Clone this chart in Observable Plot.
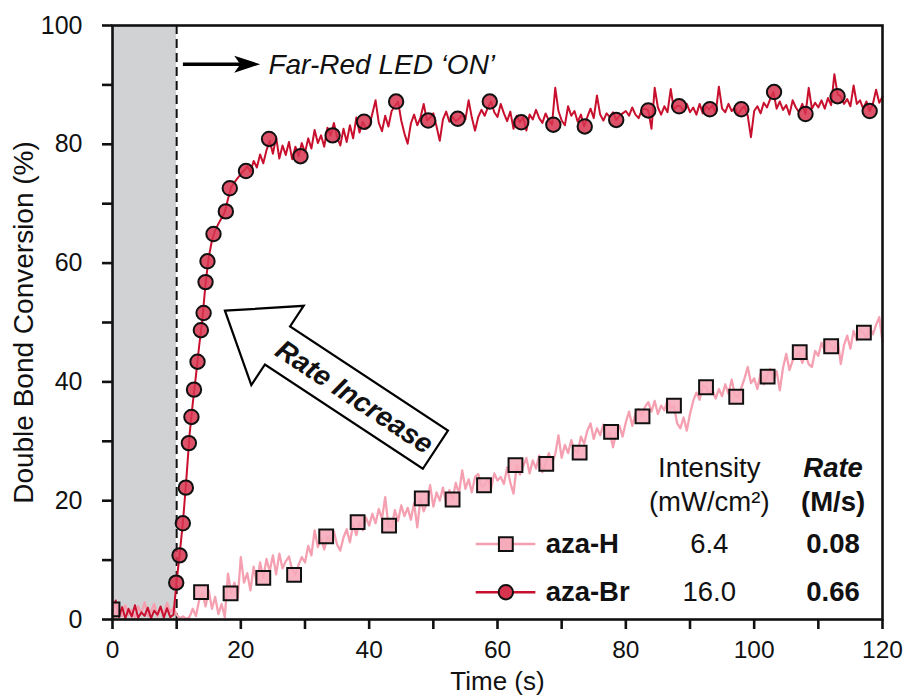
<!DOCTYPE html>
<html>
<head>
<meta charset="utf-8">
<script src="https://cdn.jsdelivr.net/npm/d3@7"></script>
<script src="https://cdn.jsdelivr.net/npm/@observablehq/plot@0.6"></script>
<style>
  html, body { margin: 0; padding: 0; background: #fff; }
  #chart { width: 905px; height: 696px; }
</style>
</head>
<body>
<div id="chart"></div>
<script>
// ---- Data -------------------------------------------------------------
// Photo-DSC style conversion traces, sampled every 0.5 s from 0 to 120 s.
const traceStep = 0.5;

const azaBrTrace = [
  1.5, 3.2, 0.4, 2.1, 0.2, 1.8, 0.5, 2.4, 0.3, 1.2, 0.6, 2.0, 0.2, 1.5, 0.8, 2.2, 0.3, 1.9, 0.4, 0.8,
  6.5, 11.3, 16.7, 23.5, 31.0, 36.3, 41.0, 46.0, 50.5, 56.5, 61.0, 63.8, 65.5, 66.6, 67.6, 68.6, 70.8, 72.8, 73.6, 74.3,
  75.0, 75.6, 76.3, 75.4, 77.2, 76.1, 78.3, 76.8, 79.0, 80.6, 78.4, 81.2, 77.6, 79.8, 78.2, 80.4, 77.5, 79.6, 78.0, 80.2,
  78.6, 81.0, 79.3, 82.4, 80.2, 81.5, 79.6, 82.8, 81.5, 83.6, 81.2, 79.8, 82.6, 80.4, 83.2, 81.0, 84.5, 82.0, 83.8, 82.6,
  83.0, 85.2, 87.4, 83.6, 82.2, 84.8, 83.0, 85.6, 86.4, 87.2, 84.0, 81.8, 80.1, 83.5, 85.0, 83.2, 84.5, 86.8, 84.0, 84.5,
  85.2, 83.0, 80.6, 84.2, 85.5, 83.8, 84.6, 83.9, 84.3, 85.0, 84.2, 87.4, 84.5, 82.3, 84.6, 85.8, 84.8, 86.2, 87.2, 85.4,
  84.6, 86.8, 85.2, 83.9, 85.5, 82.6, 84.8, 83.7, 84.6, 82.3, 85.0, 84.2, 85.8, 84.4, 83.6, 85.2, 84.0, 83.3, 89.5, 85.6,
  84.0, 83.2, 86.4, 84.8, 85.6, 83.8, 85.0, 83.0, 84.6, 86.0, 84.4, 88.2, 85.0, 84.0, 85.2, 84.6, 85.4, 84.1, 84.8, 85.2,
  85.6, 84.8, 86.2, 85.0, 84.4, 85.8, 86.0, 85.7, 82.6, 89.5, 86.2, 85.0, 86.4, 85.4, 89.3, 85.8, 86.5, 86.4, 85.6, 86.8,
  85.4, 86.2, 85.0, 86.8, 85.2, 86.4, 85.9, 86.6, 85.2, 89.7, 86.0, 85.4, 86.8, 85.6, 86.2, 85.0, 85.9, 86.4, 84.8, 81.2,
  85.6, 86.4, 85.2, 87.0, 86.2, 87.6, 88.8, 86.0, 87.2, 85.8, 86.6, 85.0, 87.4, 86.2, 85.4, 86.8, 85.1, 89.5, 86.0, 87.0,
  86.2, 87.4, 86.0, 87.8, 86.6, 91.8, 88.4, 88.1, 86.8, 87.6, 86.4, 89.9, 86.8, 87.4, 86.0, 87.2, 85.6, 86.8, 89.2, 87.0,
  88.0
];

const azaHTrace = [
  1.0, 0.4, 1.8, 0.6, 2.4, 0.8, 1.6, 0.3, 2.2, 1.0, 2.9, 0.6, 1.4, 2.6, 0.5, 1.8, 0.9, 2.8, 1.2, 2.0,
  0.8, 0.2, 0.5, 0.1, 0.4, 1.8, 0.6, 3.2, 4.6, 2.2, 4.9, 1.8, 3.8, 0.9, 2.6, 0.4, 7.7, 4.4, 6.2, 3.5,
  10.5, 6.2, 7.8, 4.9, 8.9, 6.0, 9.6, 7.0, 10.2, 8.1, 10.8, 7.6, 11.1, 8.6, 9.8, 10.6, 8.4, 7.5, 9.2, 10.5,
  9.6, 12.4, 10.8, 15.0, 12.2, 13.6, 11.8, 14.0, 13.0, 14.8, 12.6, 11.6, 13.8, 15.2, 13.0, 16.0, 14.2, 16.4, 15.0, 17.2,
  15.8, 17.8, 16.2, 18.6, 17.0, 20.6, 15.8, 15.5, 18.4, 16.6, 19.2, 17.4, 18.8, 16.8, 19.6, 15.5, 20.4, 18.2, 19.6, 22.6,
  19.0, 21.4, 20.0, 22.2, 19.6, 21.8, 20.2, 23.0, 21.2, 25.1, 22.0, 23.6, 21.4, 24.0, 24.5, 22.4, 22.6, 23.8, 22.0, 24.6,
  23.4, 24.0, 22.8, 25.6, 23.0, 21.2, 26.0, 24.4, 25.8, 27.2, 24.6, 26.8, 25.4, 27.6, 24.8, 26.2, 28.0, 26.4, 27.8, 31.0,
  27.2, 29.4, 28.0, 30.2, 28.4, 28.1, 30.8, 29.6, 31.8, 33.0, 30.4, 32.2, 31.0, 32.8, 30.6, 31.6, 29.0, 31.4, 32.6, 30.8,
  33.2, 35.0, 32.6, 34.6, 35.4, 34.2, 35.8, 36.6, 35.0, 36.8, 34.6, 36.0, 35.2, 37.0, 35.6, 36.0, 33.0, 32.2, 34.0, 31.8,
  34.6, 36.8, 38.2, 37.0, 39.4, 39.1, 38.0, 38.6, 37.2, 38.8, 37.6, 39.6, 38.0, 40.4, 37.8, 37.5, 39.0, 40.6, 42.5, 39.8,
  40.6, 38.8, 41.4, 39.6, 40.9, 42.2, 40.4, 41.8, 38.6, 42.4, 44.7, 42.0, 43.6, 44.2, 45.0, 43.2, 44.6, 43.0, 42.5, 45.2,
  44.4, 46.6, 45.2, 47.0, 46.0, 45.4, 47.2, 43.0, 46.2, 47.8, 45.6, 48.6, 47.0, 48.8, 48.3, 47.4, 49.2, 48.0, 49.6, 50.9,
  46.8
];

// Marker points drawn on top of each trace.
const azaBrMarkerTime = [9.93, 10.45, 10.96, 11.43, 11.9, 12.3, 12.7, 13.25, 13.77, 14.2, 14.5, 14.8, 15.74, 17.66, 18.28, 20.8,
  24.4, 29.3, 34.3, 39.2, 44.2, 49.2, 53.8, 58.8, 63.7, 68.7, 73.6, 78.5, 83.5, 88.3, 93.1, 98.0, 103.1, 108.0, 113.0, 118.0];
const azaBrMarkerValue = [6.2, 10.8, 16.2, 22.2, 29.7, 34.1, 38.7, 43.4, 48.7, 51.6, 56.8, 60.3, 64.9, 68.7, 72.6, 75.5,
  80.9, 78.0, 81.5, 83.8, 87.2, 84.0, 84.3, 87.2, 83.7, 83.3, 83.0, 84.1, 85.7, 86.4, 85.9, 85.9, 88.8, 85.1, 88.1, 85.6];

const azaHMarkerTime = [0, 13.8, 18.4, 23.5, 28.3, 33.3, 38.2, 43.1, 48.2, 53.0, 57.9, 62.8, 67.6, 72.8, 77.7, 82.6, 87.5,
  92.5, 97.2, 102.1, 107.1, 112.0, 117.1];
const azaHMarkerValue = [1.7, 4.6, 4.4, 7.0, 7.5, 14.0, 16.4, 15.8, 20.4, 20.2, 22.6, 26.0, 26.2, 28.1, 31.6, 34.2, 36.0,
  39.1, 37.5, 40.9, 45.0, 46.0, 48.3];

// Legend table
const seriesNames = ["aza-H", "aza-Br"];
const intensities = ["6.4", "16.0"];
const rates = ["0.08", "0.66"];

// Axis ticks
const xTicks = [0, 10, 20, 30, 40, 50, 60, 70, 80, 90, 100, 110, 120];
const yTicks = [0, 10, 20, 30, 40, 50, 60, 70, 80, 90, 100];

// LED off period (s) and switch-on time
const darkPeriod = [0, 10];
const ledOnTime = 10;

// ---- Styles -----------------------------------------------------------
const FONT = "'Liberation Sans', Arial, Helvetica, sans-serif";
const colorBrLine = "#c8102e";
const colorBrFill = "#d8344f";
const colorHLine = "#f5a0b1";
const colorHFill = "#f6abba";
const TEXT = 28;

// ---- Build tables -------------------------------------------------------
const brLine = azaBrTrace.map((v, i) => ({t: i * traceStep, v}));
const hLine = azaHTrace.map((v, i) => ({t: i * traceStep, v}));
const brPts = azaBrMarkerTime.map((t, i) => ({t, v: azaBrMarkerValue[i]}));
const hPts = azaHMarkerTime.map((t, i) => ({t, v: azaHMarkerValue[i]}));

// Legend placement (data units)
const legendRowY = [12.7, 4.6];
const legendHeaderY = [25.5, 19.7];
const legendLine = [56.6, 65.9];
const legendSymbolX = 61.3;
const legendLabelX = 67.5;
const intensityX = 93.0;
const rateX = 112.3;
const legendRows = seriesNames.map((name, i) => ({
  name, intensity: intensities[i], rate: rates[i], y: legendRowY[i]
}));

// Annotation anchors (data units)
const ledArrow = {x1: 11.05, x2: 23.1, y: 93.4, labelX: 24.3};
const rateArrow = {tipX: 17.6, tipY: 51.9, tailX: 50.4, tailY: 28.5};

// Hand-drawn arrows rendered in screen space from the scales.
function arrows(index, scales) {
  const {x, y} = scales;
  const g = d3.create("svg:g");

  // LED-on arrow: thick shaft with a solid head
  const ax0 = x(ledArrow.x1), ax1 = x(ledArrow.x2), ay = y(ledArrow.y);
  g.append("line")
    .attr("x1", ax0).attr("x2", ax1 - 18).attr("y1", ay).attr("y2", ay)
    .attr("stroke", "#000").attr("stroke-width", 3.6);
  g.append("path")
    .attr("d", `M${ax1},${ay}L${ax1 - 26},${ay - 8.5}L${ax1 - 20},${ay}L${ax1 - 26},${ay + 8.5}Z`)
    .attr("fill", "#000");

  // Big hollow "Rate Increase" arrow
  const tx = x(rateArrow.tipX), ty = y(rateArrow.tipY);
  const ex = x(rateArrow.tailX), ey = y(rateArrow.tailY);
  const len = Math.hypot(ex - tx, ey - ty);
  const ang = Math.atan2(ey - ty, ex - tx) * 180 / Math.PI;
  const headLen = 63, headHalf = 47.5, shaftHalf = 22.8;
  const arrow = g.append("g").attr("transform", `translate(${tx},${ty}) rotate(${ang})`);
  arrow.append("path")
    .attr("d", `M0,0L${headLen},${-headHalf}L${headLen},${-shaftHalf}L${len},${-shaftHalf}` +
               `L${len},${shaftHalf}L${headLen},${shaftHalf}L${headLen},${headHalf}Z`)
    .attr("fill", "#fff").attr("stroke", "#000").attr("stroke-width", 2.2)
    .attr("stroke-linejoin", "miter");
  arrow.append("text")
    .attr("x", (headLen + len) / 2 - 2).attr("y", 0).attr("dy", "0.35em")
    .attr("text-anchor", "middle")
    .attr("font-family", FONT).attr("font-size", 28)
    .attr("font-weight", "bold").attr("font-style", "italic")
    .attr("fill", "#111")
    .text("Rate Increase");
  return g.node();
}

const chart = Plot.plot({
  width: 905,
  height: 696,
  marginLeft: 112,
  marginRight: 23,
  marginTop: 25,
  marginBottom: 77,
  style: {fontFamily: FONT, fontSize: "25px", color: "#111", background: "#fff"},
  x: {domain: [0, 120]},
  y: {domain: [0, 100]},
  marks: [
    // LED off period
    Plot.rect([darkPeriod], {x1: d => d[0], x2: d => d[1], y1: 0, y2: 100, fill: "#d1d2d4"}),
    Plot.ruleX([ledOnTime], {stroke: "#111", strokeWidth: 2, strokeDasharray: "9,5"}),

    // Traces
    Plot.line(hLine, {x: "t", y: "v", stroke: colorHLine, strokeWidth: 2.3, curve: "linear"}),
    Plot.line(brLine, {x: "t", y: "v", stroke: colorBrLine, strokeWidth: 2, curve: "linear"}),

    // Markers
    Plot.dot(hPts, {x: "t", y: "v", symbol: "square", r: 7.8, fill: colorHFill, fillOpacity: 0.9,
      stroke: "#111", strokeWidth: 2, clip: true}),
    Plot.dot(brPts, {x: "t", y: "v", r: 7.2, fill: colorBrFill, fillOpacity: 0.85,
      stroke: "#111", strokeWidth: 2}),

    // Frame and axes
    Plot.frame({stroke: "#111", strokeWidth: 2.6}),
    Plot.axisX(xTicks, {tickSize: 10, tickPadding: 11, strokeWidth: 2.6, fontSize: 24.5,
      tickFormat: d => (d % 20 === 0 ? d : ""), label: null}),
    Plot.axisY(yTicks, {tickSize: 10, tickPadding: 20, strokeWidth: 2.6, fontSize: 25,
      tickFormat: d => (d % 20 === 0 ? d : ""), label: null}),
    Plot.text(["Time (s)"], {frameAnchor: "bottom", lineAnchor: "middle", dy: 62, fontSize: 26, fill: "#111"}),
    Plot.text(["Double Bond Conversion (%)"], {frameAnchor: "left", dx: -88, rotate: -90,
      textAnchor: "middle", fontSize: TEXT, fill: "#111"}),

    // LED label
    Plot.text(["Far-Red LED \u2018ON\u2019"], {x: ledArrow.labelX, y: ledArrow.y, textAnchor: "start",
      fontSize: TEXT, fontStyle: "italic", fill: "#111"}),

    // Legend header
    Plot.text(["Intensity", "(mW/cm\u00b2)"], {x: intensityX, y: (d, i) => legendHeaderY[i], fontSize: 27.5, fill: "#111"}),
    Plot.text(["Rate"], {x: rateX, y: legendHeaderY[0], fontSize: 27.5, fontWeight: "bold", fontStyle: "italic", fill: "#111"}),
    Plot.text(["(M/s)"], {x: rateX, y: legendHeaderY[1], fontSize: 27.5, fontWeight: "bold", fill: "#111"}),

    // Legend rows
    Plot.link(legendRows.slice(0, 1), {x1: legendLine[0], x2: legendLine[1], y1: "y", y2: "y",
      stroke: colorHLine, strokeWidth: 2.6}),
    Plot.link(legendRows.slice(1, 2), {x1: legendLine[0], x2: legendLine[1], y1: "y", y2: "y",
      stroke: colorBrLine, strokeWidth: 2.6}),
    Plot.dot(legendRows.slice(0, 1), {x: legendSymbolX, y: "y", symbol: "square", r: 7.8, fill: colorHFill,
      stroke: "#111", strokeWidth: 2}),
    Plot.dot(legendRows.slice(1, 2), {x: legendSymbolX, y: "y", r: 7.2, fill: colorBrFill,
      stroke: "#111", strokeWidth: 2}),
    Plot.text(legendRows, {x: legendLabelX, y: "y", text: "name", textAnchor: "start", fontSize: 27.5,
      fontWeight: "bold", fill: "#111"}),
    Plot.text(legendRows, {x: intensityX, y: "y", text: "intensity", fontSize: 27.5, fill: "#111"}),
    Plot.text(legendRows, {x: rateX, y: "y", text: "rate", fontSize: 27.5, fontWeight: "bold", fill: "#111"}),

    // Arrows
    arrows
  ]
});

document.getElementById("chart").appendChild(chart);
</script>
</body>
</html>
